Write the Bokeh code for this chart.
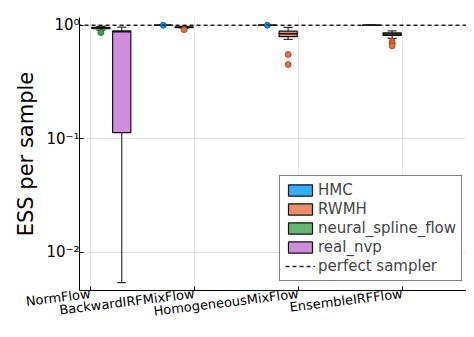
import math
from bokeh.plotting import figure
from bokeh.models import (ColumnDataSource, FixedTicker, CustomJSTickFormatter,
                          Legend, LegendItem, Range1d)
from bokeh.transform import dodge
from bokeh.embed import file_html
from bokeh.resources import INLINE

# ---------------- data ----------------
categories = ["NormFlow", "BackwardIRFMixFlow", "HomogeneousMixFlow",
              "EnsembleIRFFlow", "IRFMixFlow"]
series_names = ["HMC", "RWMH", "neural_spline_flow", "real_nvp"]
series_colors = ["#009AFA", "#E36F47", "#3EA44E", "#C371D2"]
outlier_edge = ["#005f9e", "#9c3f20", "#1f6a2b", "#7e3c8c"]

# box statistics per category (None = not present / not visible)
hmc_low = [None, 0.998, 0.998, 0.999, None]
hmc_q1 = [None, 0.998, 0.998, 0.999, None]
hmc_med = [None, 0.999, 0.999, 0.999, None]
hmc_q3 = [None, 0.999, 0.999, 1.0, None]
hmc_high = [None, 1.0, 1.0, 1.0, None]
hmc_out = [[], [0.997], [0.997], [], []]

rwmh_low = [None, 0.94, 0.75, 0.766, None]
rwmh_q1 = [None, 0.952, 0.792, 0.812, None]
rwmh_med = [None, 0.958, 0.84, 0.834, None]
rwmh_q3 = [None, 0.964, 0.885, 0.856, None]
rwmh_high = [None, 0.975, 0.956, 0.89, None]
rwmh_out = [[], [0.913], [0.551, 0.45], [0.719, 0.687, 0.656], []]

nsf_low = [0.905, None, None, None, None]
nsf_q1 = [0.93, None, None, None, None]
nsf_med = [0.945, None, None, None, None]
nsf_q3 = [0.955, None, None, None, None]
nsf_high = [0.975, None, None, None, None]
nsf_out = [[0.86], [], [], [], []]

rnvp_low = [0.0054, None, None, None, None]
rnvp_q1 = [0.113, None, None, None, None]
rnvp_med = [0.875, None, None, None, None]
rnvp_q3 = [0.89, None, None, None, None]
rnvp_high = [0.962, None, None, None, None]
rnvp_out = [[], [], [], [], []]

perfect_value = 1.0
y_ticks = [0.01, 0.1, 1.0]
y_tick_labels = ["10\u207b\u00b2", "10\u207b\u00b9", "10\u2070"]

stats = [
    (hmc_low, hmc_q1, hmc_med, hmc_q3, hmc_high, hmc_out),
    (rwmh_low, rwmh_q1, rwmh_med, rwmh_q3, rwmh_high, rwmh_out),
    (nsf_low, nsf_q1, nsf_med, nsf_q3, nsf_high, nsf_out),
    (rnvp_low, rnvp_q1, rnvp_med, rnvp_q3, rnvp_high, rnvp_out),
]

# ---------------- figure ----------------
FONT = "DejaVu Sans"
group_width = 0.8
n_series = len(series_names)
slot = group_width / n_series
box_w = slot * 0.875
cap_half = box_w / 4

p = figure(width=466, height=329, y_axis_type="log",
           x_range=Range1d(0.894, 4.615), y_range=Range1d(0.0046, 1.168),
           output_backend="svg", toolbar_location=None,
           min_border_top=17, min_border_right=0, min_border_left=79,
           min_border_bottom=0)
p.outline_line_color = None
p.background_fill_color = "white"

legend_items = []
for j, name in enumerate(series_names):
    low, q1, med, q3, high, outs = stats[j]
    offset = -group_width / 2 + slot / 2 + j * slot
    xs, d = [], dict(low=[], q1=[], med=[], q3=[], high=[])
    ox, oy = [], []
    for i in range(len(categories)):
        if q1[i] is not None:
            xs.append(i + 1 + offset)
            d["low"].append(low[i]); d["q1"].append(q1[i]); d["med"].append(med[i])
            d["q3"].append(q3[i]); d["high"].append(high[i])
        for v in outs[i]:
            ox.append(i + 1 + offset); oy.append(v)
    src = ColumnDataSource(dict(x=xs, **d))
    wc = "#333333"
    p.segment(x0="x", y0="q3", x1="x", y1="high", source=src, line_color=wc, line_width=1.2)
    p.segment(x0="x", y0="q1", x1="x", y1="low", source=src, line_color=wc, line_width=1.2)
    p.segment(x0=dodge("x", -cap_half), y0="high", x1=dodge("x", cap_half), y1="high",
              source=src, line_color=wc, line_width=1.2)
    p.segment(x0=dodge("x", -cap_half), y0="low", x1=dodge("x", cap_half), y1="low",
              source=src, line_color=wc, line_width=1.2)
    r = p.vbar(x="x", width=box_w, bottom="q1", top="q3", source=src,
               fill_color=series_colors[j], fill_alpha=0.8,
               line_color="#111111", line_width=1.2)
    p.segment(x0=dodge("x", -box_w / 2), y0="med", x1=dodge("x", box_w / 2), y1="med",
              source=src, line_color="#111111", line_width=1.5)
    p.scatter(x=ox, y=oy, size=6, fill_color=series_colors[j],
              line_color=outlier_edge[j], line_width=0.8)
    legend_items.append(LegendItem(label=name, renderers=[r]))

perfect = p.line(x=[0, len(categories) + 1], y=[perfect_value, perfect_value],
                 line_color="#222222", line_width=1.5, line_dash="4 3")
legend_items.append(LegendItem(label="perfect sampler", renderers=[perfect]))

# axes
p.yaxis.ticker = FixedTicker(ticks=y_ticks)
p.yaxis.formatter = CustomJSTickFormatter(args=dict(yt=y_ticks, labs=y_tick_labels), code="""
const k = yt.findIndex(t => Math.abs(Math.log10(t) - Math.log10(tick)) < 1e-6);
return k >= 0 ? labs[k] : '';
""")
p.xaxis.ticker = FixedTicker(ticks=list(range(1, len(categories) + 1)))
p.xaxis.formatter = CustomJSTickFormatter(args=dict(cats=categories), code="""
const k = Math.round(tick) - 1;
return (k >= 0 && k < cats.length) ? cats[k] : '';
""")
p.xaxis.major_label_orientation = math.radians(7)
p.yaxis.axis_label = "ESS per sample"
p.yaxis.axis_label_text_font = FONT
p.yaxis.axis_label_text_font_style = "normal"
p.yaxis.axis_label_text_font_size = "21px"
p.yaxis.axis_label_text_color = "black"
p.yaxis.axis_label_standoff = 5
for ax in (p.xaxis, p.yaxis):
    ax.major_label_text_font = FONT
    ax.major_label_text_font_size = "13px"
    ax.major_label_text_color = "black"
    ax.axis_line_color = "black"
    ax.major_tick_line_color = "black"
    ax.major_tick_in = 4
    ax.major_tick_out = 0
    ax.minor_tick_line_color = None
p.yaxis.major_label_text_font_size = "15px"
p.yaxis.major_label_standoff = 0
p.xaxis.major_label_standoff = 3

p.xgrid.ticker = FixedTicker(ticks=list(range(1, len(categories) + 1)))
p.ygrid.ticker = FixedTicker(ticks=y_ticks)
for g in (p.xgrid, p.ygrid):
    g.grid_line_color = "black"
    g.grid_line_alpha = 0.1
    g.grid_line_width = 1

legend = Legend(items=legend_items, location=(200, 9))
legend.label_text_font = FONT
legend.label_text_font_size = "15px"
legend.label_height = 16
legend.glyph_height = 14
legend.glyph_width = 30
legend.spacing = 1
legend.padding = 5
legend.margin = 0
legend.label_standoff = 3
legend.border_line_color = "black"
legend.border_line_width = 1
legend.background_fill_alpha = 1.0
p.add_layout(legend)

open("out.html", "w").write(file_html(p, INLINE))
